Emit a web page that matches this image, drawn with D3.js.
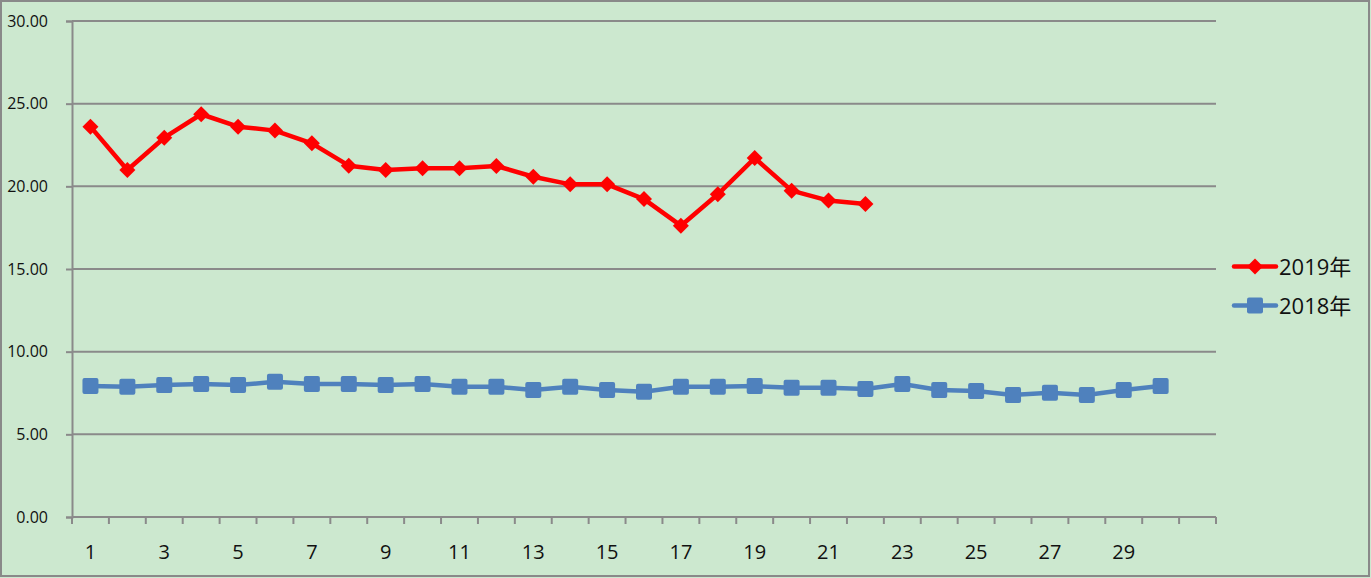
<!DOCTYPE html>
<html><head><meta charset="utf-8">
<script src="https://cdn.jsdelivr.net/npm/d3@7"></script>
<style>html,body{margin:0;padding:0;background:#CCE8CF;}</style>
</head><body>
<svg id="c" width="1371" height="578"></svg>
<script>
const categories = ["1","2","3","4","5","6","7","8","9","10","11","12","13","14","15","16","17","18","19","20","21","22","23","24","25","26","27","28","29","30",""];
const s2019 = [23.61,20.99,22.94,24.36,23.61,23.37,22.60,21.25,20.99,21.09,21.09,21.23,20.58,20.12,20.12,19.23,17.62,19.52,21.71,19.74,19.14,18.93];
const s2018 = [7.92,7.88,7.98,8.04,7.98,8.18,8.04,8.04,7.98,8.04,7.88,7.88,7.68,7.88,7.68,7.58,7.88,7.88,7.92,7.82,7.82,7.74,8.04,7.68,7.62,7.38,7.52,7.38,7.68,7.92];
const yTicks = [0,5,10,15,20,25,30];
const seriesNames = ["2019年","2018年"];

const svg = d3.select("#c");
const W=1371,H=578;
const m={l:72,r:1216,t:21,b:517};
svg.append("rect").attr("x",1).attr("y",1).attr("width",W-3).attr("height",H-3)
  .attr("fill","#CCE8CF").attr("stroke","#898989").attr("stroke-width",2);

const x = d3.scaleBand().domain(categories.map((d,i)=>i)).range([m.l,m.r]);
const y = d3.scaleLinear().domain([0,30]).range([m.b,m.t]);
const font = "'Open Sans', 'Liberation Sans', sans-serif";

// grid
svg.append("g").selectAll("line").data(yTicks.filter(d=>d>0)).join("line")
  .attr("x1",m.l).attr("x2",m.r).attr("y1",d=>y(d)).attr("y2",d=>y(d))
  .attr("stroke","#8a8a8a").attr("stroke-width",2);

// y axis
const ya = svg.append("g").attr("transform",`translate(${m.l},0)`)
  .call(d3.axisLeft(y).tickValues(yTicks).tickFormat(d3.format(".2f")).tickSize(6).tickPadding(18));
ya.attr("font-size",null).attr("font-family",null);
ya.select(".domain").attr("stroke","#8a8a8a").attr("stroke-width",2);
ya.selectAll(".tick line").attr("stroke","#8a8a8a").attr("stroke-width",2);
ya.selectAll(".tick text").style("font-family",font).style("font-size","16px").attr("fill","#111");

// x axis
const xa = svg.append("g").attr("transform",`translate(0,${m.b})`)
  .call(d3.axisBottom(x).tickValues([]).tickSize(0));
xa.select(".domain").attr("stroke","#8a8a8a").attr("stroke-width",2).attr("d",`M${m.l},0H${m.r}`);
const bounds = d3.range(categories.length+1).map(i=>m.l+i*x.bandwidth());
xa.selectAll(".bt").data(bounds).join("line").attr("class","bt")
  .attr("x1",d=>d).attr("x2",d=>d).attr("y1",0).attr("y2",7)
  .attr("stroke","#8a8a8a").attr("stroke-width",2);
xa.selectAll(".lbl").data(categories.map((c,i)=>({c,i})).filter(d=>d.i%2===0 && d.c!=="")).join("text").attr("class","lbl")
  .attr("x",d=>x(d.i)+x.bandwidth()/2).attr("y",42).attr("text-anchor","middle")
  .style("font-family",font).style("font-size","20px").attr("fill","#111").text(d=>d.c);

const cx = i=>x(i)+x.bandwidth()/2;
const line = d3.line().x((d,i)=>cx(i)).y(d=>y(d));

// 2018
svg.append("path").datum(s2018).attr("d",line).attr("fill","none")
  .attr("stroke","#4F81BD").attr("stroke-width",4.5).attr("stroke-linejoin","round");
svg.append("g").selectAll("rect").data(s2018).join("rect")
  .attr("x",(d,i)=>cx(i)-8).attr("y",d=>y(d)-8).attr("width",16).attr("height",16).attr("rx",2)
  .attr("fill","#4F81BD");

// 2019
svg.append("path").datum(s2019).attr("d",line).attr("fill","none")
  .attr("stroke","#FF0000").attr("stroke-width",4.5).attr("stroke-linejoin","round");
svg.append("g").selectAll("path").data(s2019).join("path")
  .attr("d",(d,i)=>{const X=cx(i),Y=y(d),r=8;return `M${X},${Y-r}L${X+r},${Y}L${X},${Y+r}L${X-r},${Y}Z`;})
  .attr("fill","#FF0000");

// legend
const lg = svg.append("g");
const lgY=[266.5,305.5];
seriesNames.forEach((n,k)=>{
  const col = k===0?"#FF0000":"#4F81BD";
  lg.append("line").attr("x1",1234).attr("x2",1276).attr("y1",lgY[k]).attr("y2",lgY[k])
    .attr("stroke",col).attr("stroke-width",4.5).attr("stroke-linecap","round");
  if(k===0){
    lg.append("path").attr("d",`M1255,${lgY[k]-8}L1263,${lgY[k]}L1255,${lgY[k]+8}L1247,${lgY[k]}Z`).attr("fill",col);
  } else {
    lg.append("rect").attr("x",1247).attr("y",lgY[k]-8).attr("width",16).attr("height",16).attr("rx",2).attr("fill",col);
  }
  lg.append("text").attr("x",1279).attr("y",lgY[k]+8).style("font-family",font+", 'Noto Sans CJK SC'")
    .style("font-size","22px").attr("fill","#111").text(n);
});
</script>
</body></html>
